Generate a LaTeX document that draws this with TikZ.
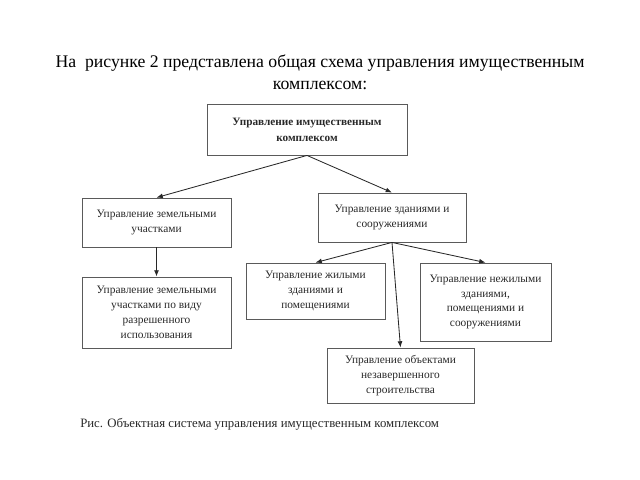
\documentclass[tikz,border=0pt]{standalone}
\usepackage{fontspec}
\setmainfont{Liberation Serif}
\usepackage{tikz}
\usetikzlibrary{arrows.meta,calc}
\definecolor{boxgray}{RGB}{90,90,90}
\definecolor{inkgray}{RGB}{40,40,40}
\newdimen\pxu \pxu=0.025cm

\begin{document}
\begin{tikzpicture}[x=\pxu, y=-\pxu,
    box/.style={draw=boxgray, line width=0.6pt, align=center, inner sep=0pt,
        text=inkgray, font=\fontsize{8.1}{10.6}\selectfont},
    link/.style={draw=inkgray, line width=0.6pt, -{Latex[length=4.5pt,width=3.5pt]}}]
    \useasboundingbox (0,0) rectangle (640,480);

    % Title
    \node[align=center, font=\fontsize{12.6}{15.6}\selectfont] (title) at (320,72)
        {На\ \ рисунке 2 представлена общая схема управления имущественным\\комплексом:};

    % Boxes
    \node[box, minimum width=200\pxu, minimum height=51\pxu, font=\fontsize{8.0}{11.3}\selectfont\bfseries] (top) at (307,129.5)
        {Управление имущественным\\комплексом};
    \node[box, minimum width=149\pxu, minimum height=49\pxu] (land) at (156.5,222.5)
        {Управление земельными\\участками};
    \node[box, minimum width=149\pxu, minimum height=71\pxu] (landuse) at (156.5,312.5)
        {Управление земельными\\участками по виду\\разрешенного\\использования};
    \node[box, minimum width=148\pxu, minimum height=49\pxu] (bld) at (392,217.5)
        {Управление зданиями и\\сооружениями};
    \node[box, minimum width=139\pxu, minimum height=56\pxu] (res) at (315.5,291)
        {Управление жилыми\\зданиями и\\помещениями};
    \node[box, minimum width=131\pxu, minimum height=78\pxu] (nres) at (485.5,302)
        {Управление нежилыми\\зданиями,\\помещениями и\\сооружениями};
    \node[box, minimum width=147\pxu, minimum height=55\pxu] (unf) at (400.5,375.5)
        {Управление объектами\\незавершенного\\строительства};

    % Arrows
    \draw[link] (top.south) -- (land.north);
    \draw[link] (top.south) -- (bld.north);
    \draw[link] (land.south) -- (landuse.north);
    \draw[link] (bld.south) -- (res.north);
    \draw[link] (bld.south) -- (nres.north);
    \draw[link] (bld.south) -- (unf.north);

    % Caption
    \node[anchor=west, inner sep=0pt, text=inkgray, font=\fontsize{9.1}{11}\selectfont] (caption) at (80,424)
        {Рис. Объектная система управления имущественным комплексом};
\end{tikzpicture}
\end{document}
